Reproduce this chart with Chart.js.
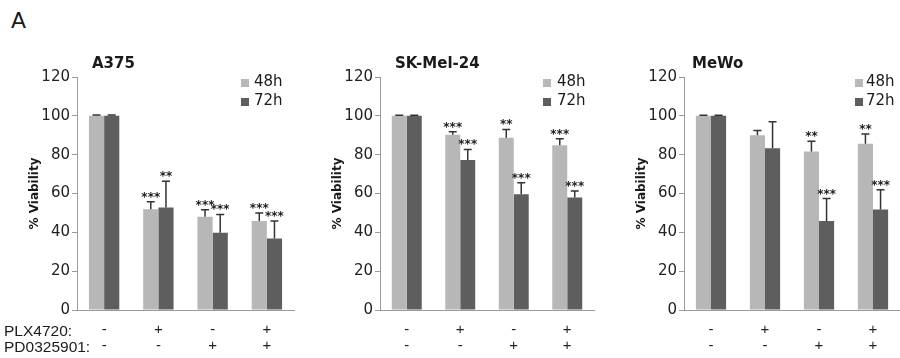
<!DOCTYPE html>
<html>
<head>
<meta charset="utf-8">
<script src="https://cdn.jsdelivr.net/npm/chart.js@4.4.1/dist/chart.umd.min.js"></script>
<style>
    body { margin: 0; background: #fff; }
    #fig { position: relative; width: 900px; height: 358px; overflow: hidden; font-family: 'DejaVu Sans', sans-serif; color: #1a1a1a; }
    #fig canvas { position: absolute; top: 0; }
    .txt { position: absolute; line-height: 1; white-space: nowrap; }
    .letter { font-size: 22px; left: 11px; top: 10px; }
    .title { font-size: 15px; font-weight: bold; top: 56px; }
    .leg { font-size: 15px; }
    .sw { position: absolute; width: 8px; height: 8px; }
    .row { font-family: 'Liberation Sans', sans-serif; font-size: 15.5px; left: 4px; }
</style>
</head>
<body>
<div id="fig">
    <div class="txt letter">A</div>
    <canvas id="c1" width="300" height="358" style="left:0px;width:300px;height:358px"></canvas>
    <canvas id="c2" width="300" height="358" style="left:300px;width:300px;height:358px"></canvas>
    <canvas id="c3" width="300" height="358" style="left:600px;width:300px;height:358px"></canvas>

    <div class="txt title" style="left:92px">A375</div>
    <div class="txt title" style="left:395px">SK-Mel-24</div>
    <div class="txt title" style="left:692px">MeWo</div>

    <div class="txt row" style="top:323px">PLX4720:</div>
    <div class="txt row" style="top:339px">PD0325901:</div>
</div>

<script>
/**=================
 * Data
 =================*/
const groupLabels = [['-', '-'], ['+', '-'], ['-', '+'], ['+', '+']];
const seriesNames = ['48h', '72h'];
const yMax = 120;
const yStep = 20;

// A375
const a375h48 = [100, 51.9, 48, 45.9];
const a375h48Err = [0.4, 3.8, 3.6, 4.0];
const a375h48Sig = ['', '***', '***', '***'];
const a375h72 = [100, 52.8, 39.8, 36.8];
const a375h72Err = [0.4, 13.5, 9.4, 9.1];
const a375h72Sig = ['', '**', '***', '***'];

// SK-Mel-24
const skh48 = [100, 90.2, 88.7, 84.8];
const skh48Err = [0.3, 1.6, 4.3, 3.4];
const skh48Sig = ['', '***', '**', '***'];
const skh72 = [100, 77.2, 59.6, 57.9];
const skh72Err = [0.3, 5.5, 6.0, 3.4];
const skh72Sig = ['', '***', '***', '***'];

// MeWo
const mewoh48 = [100, 90, 81.6, 85.6];
const mewoh48Err = [0.3, 2.4, 5.3, 5.1];
const mewoh48Sig = ['', '', '**', '**'];
const mewoh72 = [100, 83.3, 45.9, 51.7];
const mewoh72Err = [0.3, 13.7, 11.5, 10.2];
const mewoh72Sig = ['', '', '***', '***'];

const lightGray = '#b7b7b7';
const darkGray = '#5e5e5e';

Chart.defaults.font.family = "'DejaVu Sans', sans-serif";
Chart.defaults.color = '#1a1a1a';

/**=================
 * Error bars + stars
 =================*/
const errorBars = {
    id: 'errorBars',
    afterDatasetsDraw(chart) {
        const { ctx } = chart;
        const y = chart.scales.y;
        ctx.save();
        ctx.strokeStyle = '#333';
        ctx.fillStyle = '#222';
        ctx.lineWidth = 1.5;
        ctx.font = "bold 12px 'DejaVu Sans'";
        ctx.textAlign = 'center';
        ctx.textBaseline = 'alphabetic';
        chart.data.datasets.forEach((ds, di) => {
            chart.getDatasetMeta(di).data.forEach((bar, i) => {
                const top = y.getPixelForValue(ds.data[i] + ds.errors[i]);
                ctx.beginPath();
                ctx.moveTo(bar.x, bar.y);
                ctx.lineTo(bar.x, top);
                ctx.moveTo(bar.x - 4, top);
                ctx.lineTo(bar.x + 4, top);
                ctx.stroke();
                if (ds.stars[i]) {
                    ctx.fillText(ds.stars[i], bar.x, top - 1);
                }
            });
        });
        ctx.restore();
    }
};

/**=================
 * Panel builder
 =================*/
function makePanel(id, pad, h48, e48, s48, h72, e72, s72) {
    return new Chart(document.getElementById(id), {
        type: 'bar',
        data: {
            labels: groupLabels,
            datasets: [
                { label: seriesNames[0], data: h48, errors: e48, stars: s48, backgroundColor: lightGray },
                { label: seriesNames[1], data: h72, errors: e72, stars: s72, backgroundColor: darkGray }
            ]
        },
        options: {
            responsive: false,
            animation: false,
            devicePixelRatio: 1,
            categoryPercentage: 0.56,
            barPercentage: 1,
            layout: { padding: pad },
            plugins: {
                legend: { display: false },
                tooltip: { enabled: false }
            },
            scales: {
                x: {
                    grid: { display: false, drawTicks: false },
                    border: { display: true, color: '#9a9a9a', width: 1 },
                    ticks: {
                        font: { family: "'Liberation Sans'", size: 15, lineHeight: 16 / 15 },
                        color: '#222',
                        padding: 12,
                        maxRotation: 0
                    },
                    afterFit: (scale) => { scale.height = 40; }
                },
                y: {
                    min: 0,
                    max: yMax,
                    ticks: { stepSize: yStep, font: { size: 15 }, color: '#222', padding: 2 },
                    grid: { drawOnChartArea: false, drawTicks: true, tickLength: 5, color: '#9a9a9a' },
                    border: { display: true, color: '#9a9a9a', width: 1 },
                    title: {
                        display: true,
                        text: '% Viability',
                        font: { size: 12, weight: 'bold' },
                        color: '#1a1a1a',
                        padding: { top: 1, bottom: 0 }
                    },
                    afterFit: (scale) => { scale.width = 50; }
                }
            }
        },
        plugins: [errorBars]
    });
}

makePanel('c1', { left: 27, right: 6, top: 77, bottom: 8 },
    a375h48, a375h48Err, a375h48Sig, a375h72, a375h72Err, a375h72Sig);
makePanel('c2', { left: 30, right: 6, top: 77, bottom: 8 },
    skh48, skh48Err, skh48Sig, skh72, skh72Err, skh72Sig);
makePanel('c3', { left: 34, right: 0, top: 77, bottom: 8 },
    mewoh48, mewoh48Err, mewoh48Sig, mewoh72, mewoh72Err, mewoh72Sig);

/**=================
 * Legends (HTML)
 =================*/
const fig = document.getElementById('fig');
const legendPos = [{ sq: 241, tx: 254 }, { sq: 543, tx: 557 }, { sq: 855, tx: 866 }];
const legendColors = [lightGray, darkGray];
const legendTops = [76, 95];

legendPos.forEach(p => {
    seriesNames.forEach((name, k) => {
        const sw = document.createElement('div');
        sw.className = 'sw';
        sw.style.left = p.sq + 'px';
        sw.style.top = (legendTops[k] + 3) + 'px';
        sw.style.background = legendColors[k];
        fig.appendChild(sw);

        const t = document.createElement('div');
        t.className = 'txt leg';
        t.style.left = p.tx + 'px';
        t.style.top = (legendTops[k] - 2) + 'px';
        t.textContent = name;
        fig.appendChild(t);
    });
});
</script>
</body>
</html>
